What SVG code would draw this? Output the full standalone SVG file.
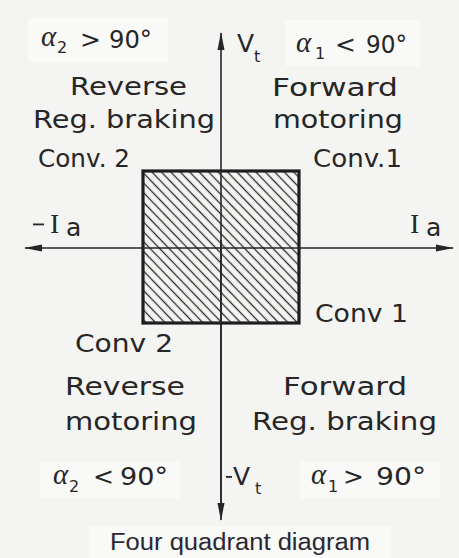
<svg xmlns="http://www.w3.org/2000/svg" width="459" height="558" viewBox="0 0 459 558">
  <style>
    .lbl { font-family: "DejaVu Sans", "Liberation Sans", sans-serif; font-size: 25px; fill: #262626; }
    .alpha { font-family: "Liberation Serif", "DejaVu Serif", serif; font-style: italic; font-size: 29px; fill: #262626; }
    .sub { font-family: "DejaVu Sans", "Liberation Sans", sans-serif; font-size: 16px; fill: #262626; }
    .serifI { font-family: "Liberation Serif", "DejaVu Serif", serif; font-size: 28px; fill: #262626; }
    .cap { font-family: "Liberation Sans", Arial, sans-serif; font-size: 23px; fill: #2a2833; }
    .axis { stroke: #262626; stroke-width: 1.6; fill: none; }
    .dash { fill: #262626; }
  </style>
  <defs>
    <pattern id="hatch" patternUnits="userSpaceOnUse" width="6.8" height="6.8" patternTransform="rotate(46)">
      <line x1="-1" y1="3.4" x2="8" y2="3.4" stroke="#2a2a2a" stroke-width="1.3"/>
    </pattern>
    <marker id="arrow" viewBox="0 0 18 8" refX="17" refY="4" markerWidth="18" markerHeight="8" markerUnits="userSpaceOnUse" orient="auto-start-reverse">
      <path d="M0,0.5 L18,4 L0,7.5 z" fill="#262626"/>
    </marker>
  </defs>

  <rect x="0" y="0" width="459" height="558" fill="#f4f4f2"/>
  <rect x="28" y="18" width="140" height="44" fill="#f9f9f8"/>
  <rect x="285" y="20" width="135" height="46" fill="#f9f9f8"/>
  <rect x="40" y="462" width="140" height="36" fill="#f9f9f8"/>
  <rect x="300" y="462" width="140" height="36" fill="#f9f9f8"/>
  <rect x="90" y="526" width="300" height="32" fill="#f9f9f8"/>

  <g id="operating-region">
    <rect x="143" y="171" width="156" height="152" fill="url(#hatch)" stroke="#1e1e1e" stroke-width="3.2"/>
  </g>

  <g id="connectors">
    <line class="axis" x1="221" y1="510" x2="221" y2="33" marker-end="url(#arrow)"/>
    <line class="axis" x1="221" y1="240" x2="221" y2="520" marker-end="url(#arrow)"/>
    <line class="axis" x1="25" y1="248" x2="453" y2="248" marker-start="url(#arrow)" marker-end="url(#arrow)"/>
  </g>

  <g id="axis-labels">
    <text class="lbl" x="237" y="52" font-size="26">V</text>
    <text class="sub" x="254" y="62" font-size="18">t</text>
    <rect class="dash" x="226" y="476" width="6" height="1.8"/>
    <text class="lbl" x="233" y="485" font-size="25">V</text>
    <text class="sub" x="255" y="494" font-size="18">t</text>
    <rect class="dash" x="33" y="223.5" width="11" height="1.8"/>
    <text class="serifI" x="50" y="233">I</text>
    <text class="lbl" x="66" y="236" font-size="19">a</text>
    <text class="serifI" x="410" y="233">I</text>
    <text class="lbl" x="426" y="236" font-size="19">a</text>
  </g>

  <g id="quadrant-1">
    <text class="alpha" x="296" y="52">α</text>
    <text class="sub" x="315" y="59">1</text>
    <text class="lbl" x="335" y="53" font-size="25">&lt;</text>
    <text class="lbl" x="366" y="53" font-size="25" textLength="41" lengthAdjust="spacingAndGlyphs">90°</text>
    <text class="lbl" x="272" y="96" textLength="126" lengthAdjust="spacingAndGlyphs">Forward</text>
    <text class="lbl" x="273" y="128" textLength="130" lengthAdjust="spacingAndGlyphs">motoring</text>
    <text class="lbl" x="313" y="167" textLength="89" lengthAdjust="spacingAndGlyphs">Conv.1</text>
  </g>

  <g id="quadrant-2">
    <text class="alpha" x="41" y="46">α</text>
    <text class="sub" x="57" y="53">2</text>
    <text class="lbl" x="80" y="48" font-size="25">&gt;</text>
    <text class="lbl" x="109" y="48" font-size="25" textLength="43" lengthAdjust="spacingAndGlyphs">90°</text>
    <text class="lbl" x="70" y="95" textLength="117" lengthAdjust="spacingAndGlyphs">Reverse</text>
    <text class="lbl" x="33" y="128" textLength="182" lengthAdjust="spacingAndGlyphs">Reg. braking</text>
    <text class="lbl" x="38" y="167" textLength="92" lengthAdjust="spacingAndGlyphs">Conv. 2</text>
  </g>

  <g id="quadrant-3">
    <text class="lbl" x="75" y="352" textLength="98" lengthAdjust="spacingAndGlyphs">Conv 2</text>
    <text class="lbl" x="65" y="395" textLength="120" lengthAdjust="spacingAndGlyphs">Reverse</text>
    <text class="lbl" x="65" y="430" textLength="132" lengthAdjust="spacingAndGlyphs">motoring</text>
    <text class="alpha" x="53" y="484">α</text>
    <text class="sub" x="69" y="492">2</text>
    <text class="lbl" x="93" y="485" font-size="25">&lt;</text>
    <text class="lbl" x="120" y="485" font-size="25" textLength="48" lengthAdjust="spacingAndGlyphs">90°</text>
  </g>

  <g id="quadrant-4">
    <text class="lbl" x="315" y="322" textLength="93" lengthAdjust="spacingAndGlyphs">Conv 1</text>
    <text class="lbl" x="283" y="395" textLength="124" lengthAdjust="spacingAndGlyphs">Forward</text>
    <text class="lbl" x="252" y="430" textLength="185" lengthAdjust="spacingAndGlyphs">Reg. braking</text>
    <text class="alpha" x="311" y="484">α</text>
    <text class="sub" x="328" y="492">1</text>
    <text class="lbl" x="343" y="485" font-size="25">&gt;</text>
    <text class="lbl" x="376" y="485" font-size="25" textLength="50" lengthAdjust="spacingAndGlyphs">90°</text>
  </g>

  <g id="caption">
    <text class="cap" x="110" y="550" textLength="260" lengthAdjust="spacingAndGlyphs">Four quadrant diagram</text>
  </g>
</svg>
